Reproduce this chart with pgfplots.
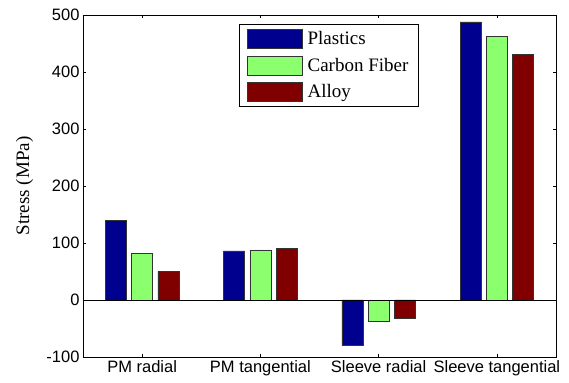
\documentclass[border=0pt]{standalone}
\usepackage{fontspec}
\setmainfont{Liberation Serif}
\newfontfamily\arialf{Liberation Sans}
\usepackage{pgfplots}
\pgfplotsset{compat=1.18}
\definecolor{cblue}{RGB}{0,0,143}
\definecolor{cgreen}{RGB}{140,255,110}
\definecolor{cred}{RGB}{128,0,0}
\begin{document}
\begin{tikzpicture}
\begin{axis}[
  scale only axis, width=473pt, height=342pt,
  xmin=-0.5, xmax=3.5, ymin=-100, ymax=500,
  xtick={0,1,2,3},
  xticklabels={PM radial, PM tangential, Sleeve radial, Sleeve tangential},
  ytick={-100,0,100,200,300,400,500},
  tick align=inside, major tick length=3pt,
  /pgf/number format/assume math mode=true,
  ticklabel style={font=\arialf\fontsize{16.5}{19}\selectfont},
  axis line style={line width=0.8pt},
  every tick/.style={black, line width=0.6pt},
  ylabel={Stress (MPa)},
  every axis y label/.style={at={(axis description cs:-0.1237,0.5)}, rotate=90, anchor=center,
    font=\fontsize{19}{22}\selectfont},
  legend style={at={(0.329,0.973)}, anchor=north west, draw=black, line width=0.8pt,
    font=\fontsize{19}{22}\selectfont, row sep=7pt, inner xsep=8pt, inner ysep=4.5pt,
    /tikz/every odd column/.style={column sep=3pt}},
  legend cell align=left,
  legend image code/.code={\draw[#1, line width=0.6pt] (0pt,-9.5pt) rectangle (55pt,9.5pt);},
]
\addplot[ybar, bar width=0.178, bar shift=-0.222, fill=cblue, draw=black!80, line width=0.6pt]
  coordinates {(0,140) (1,86) (2,-80) (3,488)};
\addplot[ybar, bar width=0.178, bar shift=0, fill=cgreen, draw=black!80, line width=0.6pt]
  coordinates {(0,82) (1,88) (2,-37) (3,462)};
\addplot[ybar, bar width=0.178, bar shift=0.222, fill=cred, draw=black!80, line width=0.6pt]
  coordinates {(0,50) (1,91) (2,-32) (3,431)};
\addplot[black, line width=0.6pt, forget plot] coordinates {(-0.5,0) (3.5,0)};
\legend{Plastics, Carbon Fiber, Alloy}
\end{axis}
\pgfresetboundingbox
\path ([shift={(-83pt,-26pt)}]current axis.south west) rectangle ([shift={(13pt,15pt)}]current axis.north east);
\end{tikzpicture}
\end{document}
